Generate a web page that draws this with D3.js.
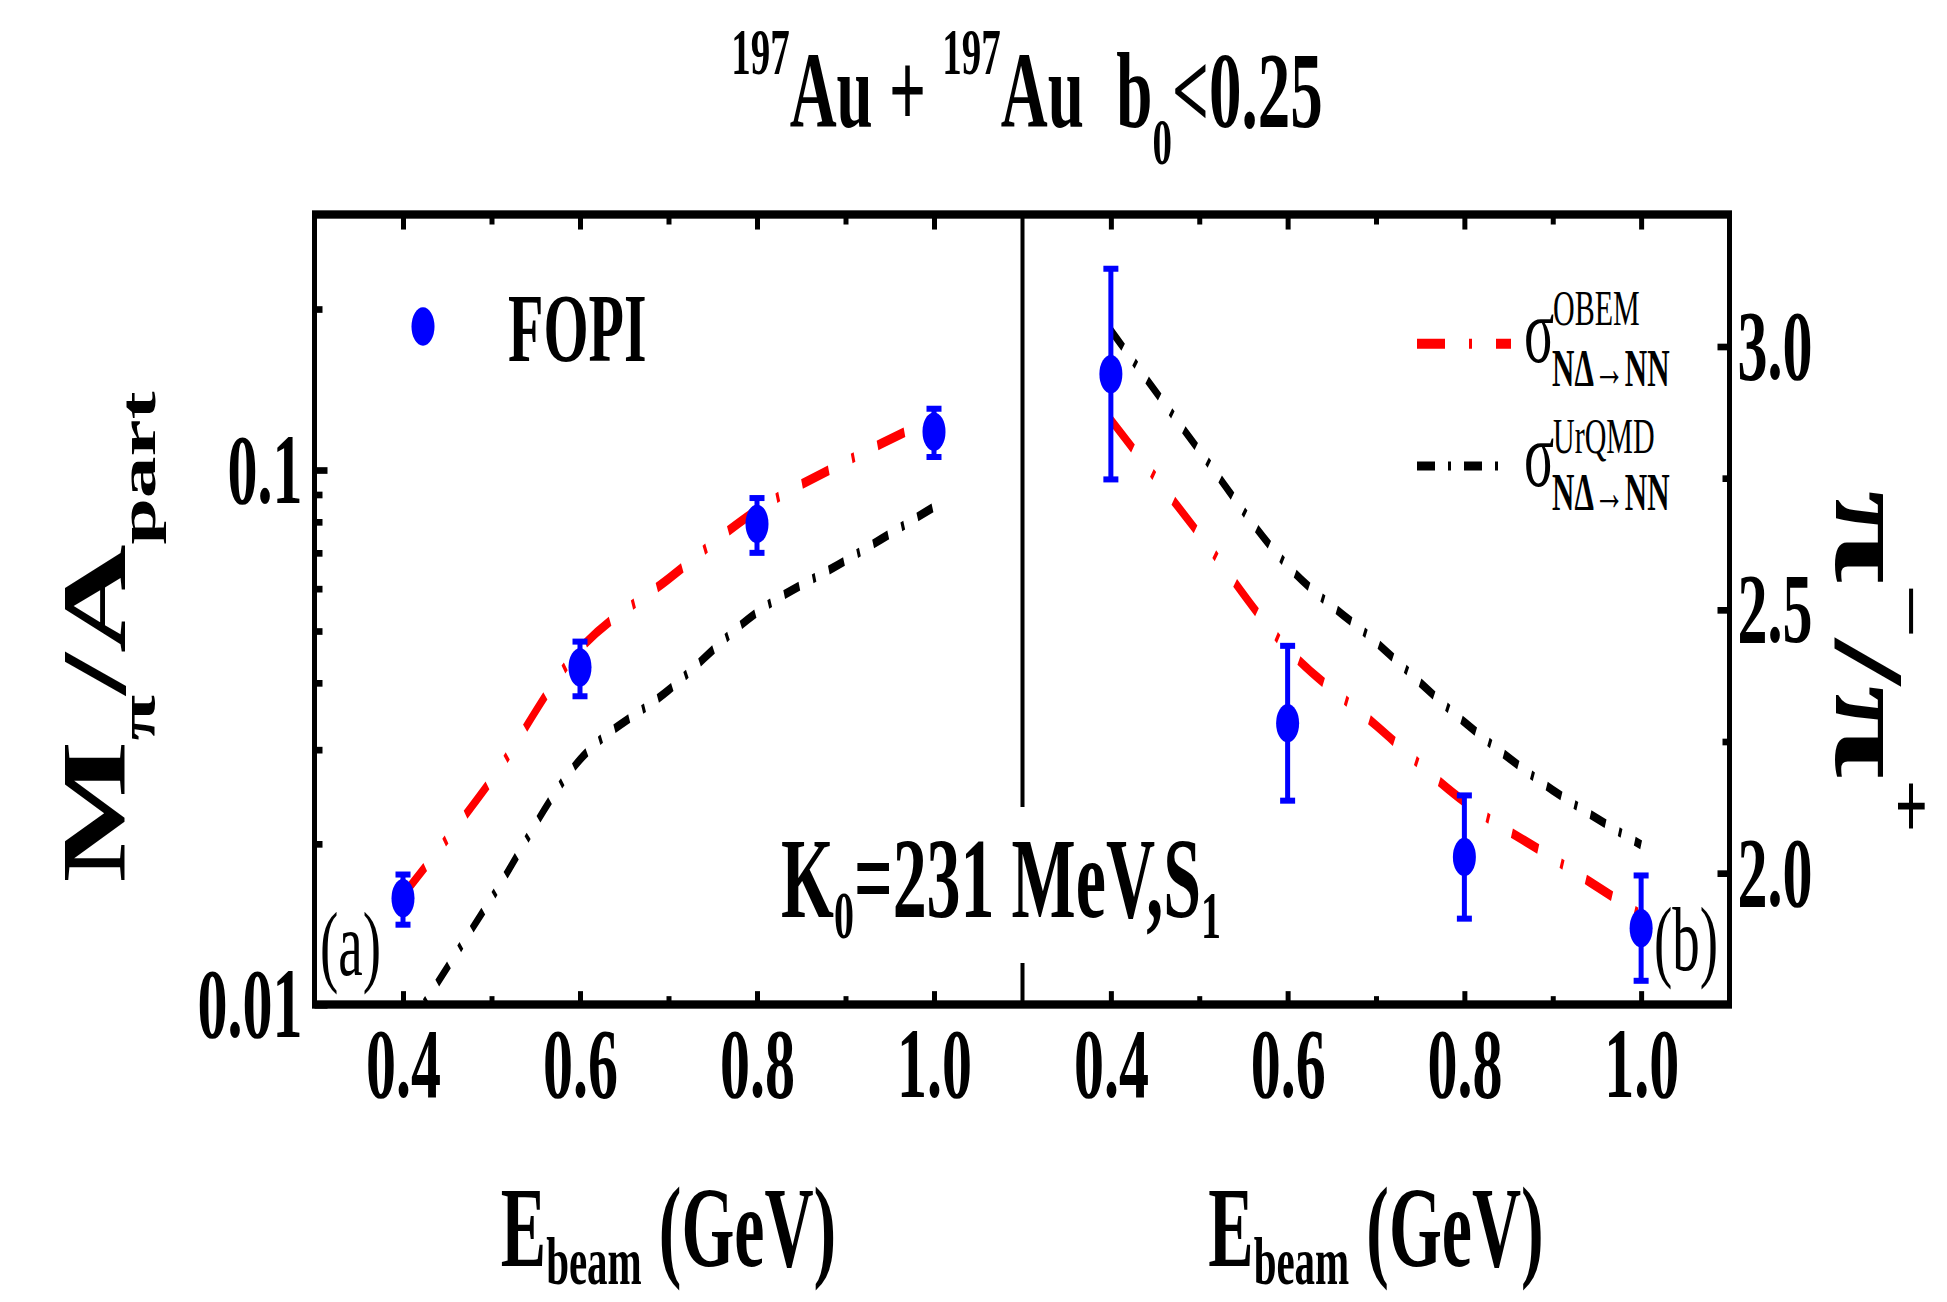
<!DOCTYPE html>
<html><head><meta charset="utf-8">
<script src="https://cdn.jsdelivr.net/npm/d3@7"></script>
<style>body{margin:0;background:#fff} svg text{font-family:"Liberation Serif","Times New Roman",serif}</style>
</head><body>
<svg id="c" width="1947" height="1302"></svg>
<script>
// ---------- data ----------
const energies = [0.4, 0.6, 0.8, 1.0];
const fopiMult = [0.0158, 0.0427, 0.0792, 0.1178];
const fopiMultErr = [0.0017, 0.0050, 0.0093, 0.0122];
const fopiRatio = [2.947, 2.284, 2.030, 1.895];
const fopiRatioErr = [0.200, 0.147, 0.117, 0.100];

const modelE = [0.4, 0.5, 0.6, 0.7, 0.8, 0.9, 1.0];
const obemMult = [0.0160, 0.0263, 0.0462, 0.0625, 0.0840, 0.1035, 0.1250];
const urqmdMult = [0.0087, 0.0158, 0.0287, 0.0387, 0.0541, 0.0676, 0.0852];
const obemRatio = [2.860, 2.643, 2.425, 2.280, 2.135, 2.028, 1.920];
const urqmdRatio = [3.030, 2.802, 2.583, 2.438, 2.286, 2.157, 2.053];

const xTicksMajor = [0.4, 0.6, 0.8, 1.0];
const xTickLabels = ["0.4", "0.6", "0.8", "1.0"];
const xTicksMinor = [0.5, 0.7, 0.9];
const yMultMajor = [0.01, 0.1];
const yMultLabels = ["0.01", "0.1"];
const yMultMinor = [0.02, 0.03, 0.04, 0.05, 0.06, 0.07, 0.08, 0.09, 0.2];
const yRatioMajor = [2.0, 2.5, 3.0];
const yRatioLabels = ["2.0", "2.5", "3.0"];
const yRatioMinor = [2.25, 2.75];

// ---------- layout ----------
const K = 1.67;               // vertical stretch of the original figure
const L = 314.5, R = 1729.5, MID = 1022.5;
const TOP = 214.5 / K, BOT = 1004.5 / K;
const RED = "#ff0000", BLUE = "#0000ff";
const SERIF = '"Liberation Serif","Times New Roman",serif';

const svg = d3.select("#c");
const g = svg.append("g").attr("transform", `scale(1,${K})`);

const xA = d3.scaleLinear().domain([0.3, 1.1]).range([L, MID]);
const xB = d3.scaleLinear().domain([0.3, 1.1]).range([MID, R]);
const yA = d3.scaleLog().domain([0.01, 0.3]).range([BOT, TOP]);
const yB = d3.scaleLinear().domain([1.75, 3.25]).range([BOT, TOP]);

function styleAxis(sel, sw) {
  sel.select(".domain").remove();
  sel.selectAll("line").attr("stroke", "#000").attr("stroke-width", sw);
  sel.attr("font-family", SERIF).attr("font-size", 60).attr("font-weight", "bold");
  sel.selectAll("text").attr("fill", "#000");
}

// x axes (both panels)
[xA, xB].forEach(xs => {
  g.append("g").attr("transform", `translate(0,${BOT})`)
    .call(d3.axisBottom(xs).tickValues(xTicksMajor).tickFormat((d, i) => xTickLabels[i]).tickSize(-8).tickPadding(13))
    .call(s => styleAxis(s, 5));
  g.append("g").attr("transform", `translate(0,${BOT})`)
    .call(d3.axisBottom(xs).tickValues(xTicksMinor).tickFormat("").tickSize(-5))
    .call(s => styleAxis(s, 5));
  g.append("g").attr("transform", `translate(0,${TOP})`)
    .call(d3.axisTop(xs).tickValues(xTicksMajor).tickFormat("").tickSize(-9))
    .call(s => styleAxis(s, 5));
  g.append("g").attr("transform", `translate(0,${TOP})`)
    .call(d3.axisTop(xs).tickValues(xTicksMinor).tickFormat("").tickSize(-6))
    .call(s => styleAxis(s, 5));
});

// left log axis
g.append("g").attr("transform", `translate(${L},0)`)
  .call(d3.axisLeft(yA).tickValues(yMultMajor).tickFormat((d, i) => yMultLabels[i]).tickSize(-13).tickPadding(12))
  .call(s => styleAxis(s, 4));
g.append("g").attr("transform", `translate(${L},0)`)
  .call(d3.axisLeft(yA).tickValues(yMultMinor).tickFormat("").tickSize(-8))
  .call(s => styleAxis(s, 4));

// right linear axis
g.append("g").attr("transform", `translate(${R},0)`)
  .call(d3.axisRight(yB).tickValues(yRatioMajor).tickFormat((d, i) => yRatioLabels[i]).tickSize(-12).tickPadding(8))
  .call(s => styleAxis(s, 4));
g.append("g").attr("transform", `translate(${R},0)`)
  .call(d3.axisRight(yB).tickValues(yRatioMinor).tickFormat("").tickSize(-7))
  .call(s => styleAxis(s, 4));

// frame and divider
g.append("rect").attr("x", L).attr("y", TOP).attr("width", R - L).attr("height", BOT - TOP)
  .attr("fill", "none").attr("stroke", "#000").attr("stroke-width", 5);
g.append("line").attr("x1", MID).attr("x2", MID).attr("y1", TOP).attr("y2", BOT)
  .attr("stroke", "#000").attr("stroke-width", 4);

// clip paths
const defs = svg.append("defs");
defs.append("clipPath").attr("id", "clipA").append("rect")
  .attr("x", L).attr("y", TOP).attr("width", MID - L).attr("height", BOT - TOP);
defs.append("clipPath").attr("id", "clipB").append("rect")
  .attr("x", MID).attr("y", TOP).attr("width", R - MID).attr("height", BOT - TOP);

const redDash = "28,24,3,24", blackDash = "16,14,3,14";

function drawModel(xs, ys, vals, color, dash, sw, clip) {
  const pts = modelE.map((e, i) => [e, vals[i]]);
  g.append("path").attr("clip-path", `url(#${clip})`)
    .datum(pts)
    .attr("d", d3.line().x(d => xs(d[0])).y(d => ys(d[1])).curve(d3.curveCatmullRom))
    .attr("fill", "none").attr("stroke", color).attr("stroke-width", sw)
    .attr("stroke-dasharray", dash);
}
drawModel(xA, yA, obemMult, RED, redDash, 6, "clipA");
drawModel(xA, yA, urqmdMult, "#000", blackDash, 5.5, "clipA");
drawModel(xB, yB, obemRatio, RED, redDash, 6, "clipB");
drawModel(xB, yB, urqmdRatio, "#000", blackDash, 5.5, "clipB");

function drawData(xs, ys, vals, errs) {
  const d = energies.map((e, i) => ({ e, v: vals[i], er: errs[i] }));
  const gg = g.append("g");
  gg.selectAll("line.bar").data(d).join("line").attr("class", "bar")
    .attr("x1", p => xs(p.e)).attr("x2", p => xs(p.e))
    .attr("y1", p => ys(p.v - p.er)).attr("y2", p => ys(p.v + p.er))
    .attr("stroke", BLUE).attr("stroke-width", 5);
  ["lo", "hi"].forEach(k => {
    gg.selectAll("line.cap" + k).data(d).join("line").attr("class", "cap" + k)
      .attr("x1", p => xs(p.e) - 7.5).attr("x2", p => xs(p.e) + 7.5)
      .attr("y1", p => ys(k === "lo" ? p.v - p.er : p.v + p.er))
      .attr("y2", p => ys(k === "lo" ? p.v - p.er : p.v + p.er))
      .attr("stroke", BLUE).attr("stroke-width", 3.6);
  });
  gg.selectAll("circle").data(d).join("circle")
    .attr("cx", p => xs(p.e)).attr("cy", p => ys(p.v)).attr("r", 11.5).attr("fill", BLUE);
}
drawData(xA, yA, fopiMult, fopiMultErr);
drawData(xB, yB, fopiRatio, fopiRatioErr);

// ---------- texts ----------
function txt(x, yImg, size, weight) {
  return g.append("text").attr("x", x).attr("y", yImg / K)
    .attr("font-size", size).attr("font-weight", weight || "bold").attr("fill", "#000");
}

// title
{
  const t = txt(1027, 127, 65).attr("text-anchor", "middle");
  t.append("tspan").attr("font-size", 39).attr("dy", -31.7).text("197");
  t.append("tspan").attr("font-size", 65).attr("dy", 31.7).text("Au + ");
  t.append("tspan").attr("font-size", 39).attr("dy", -31.7).text("197");
  t.append("tspan").attr("font-size", 65).attr("dy", 31.7).text("Au\u00A0\u00A0b");
  t.append("tspan").attr("font-size", 39).attr("dy", 22).text("0");
  t.append("tspan").attr("font-size", 65).attr("dy", -22).text("<0.25");
}

// left y label
{
  const t = g.append("text").attr("transform", `translate(125,${637 / K}) rotate(-90)`)
    .attr("text-anchor", "middle").attr("font-size", 90).attr("font-weight", "bold").attr("fill", "#000");
  t.append("tspan").text("M");
  t.append("tspan").attr("font-size", 50).attr("dy", 30).text("π");
  t.append("tspan").attr("font-size", 90).attr("dy", -30).text("/A");
  t.append("tspan").attr("font-size", 50).attr("dy", 30).text("part");
}

// right y label
{
  const t = g.append("text").attr("transform", `translate(1836,${662 / K}) rotate(90)`)
    .attr("text-anchor", "middle").attr("font-size", 102).attr("font-weight", "bold").attr("fill", "#000");
  t.append("tspan").text("π");
  t.append("tspan").attr("font-size", 58).attr("dy", -56).text("−");
  t.append("tspan").attr("font-size", 100).attr("dy", 56).text("/");
  t.append("tspan").attr("font-size", 102).text("π");
  t.append("tspan").attr("font-size", 58).attr("dy", -56).text("+");
}

// x titles
[(L + MID) / 2, (MID + R) / 2].forEach(cx => {
  const t = txt(cx, 1266, 68).attr("text-anchor", "middle");
  t.append("tspan").text("E");
  t.append("tspan").attr("font-size", 41).attr("dy", 11).text("beam");
  t.append("tspan").attr("font-size", 68).attr("dy", -11).text(" (GeV)");
});

// K0 label with white box
g.append("rect").attr("x", 775).attr("y", 807 / K).attr("width", 478).attr("height", (963 - 807) / K).attr("fill", "#fff");
{
  const t = txt(781, 917, 68);
  t.append("tspan").text("K");
  t.append("tspan").attr("font-size", 40).attr("dy", 12.6).text("0");
  t.append("tspan").attr("font-size", 68).attr("dy", -12.6).text("=231 MeV,S");
  t.append("tspan").attr("font-size", 40).attr("dy", 12.6).text("1");
}

// panel tags
txt(320, 975, 55, "normal").text("(a)");
txt(1654, 970, 55, "normal").text("(b)");

// FOPI legend
g.append("circle").attr("cx", 423).attr("cy", 326.5 / K).attr("r", 11.5).attr("fill", BLUE);
txt(508, 361, 58).text("FOPI");

// model legend
const legItems = [
  { yImg: 343.7, color: RED, dash: "28,24,3,24", sw: 6, len: 94, sup: "OBEM", sigY: 362, supY: 325, subY: 386 },
  { yImg: 466, color: "#000", dash: "18,13,3,13", sw: 5.5, len: 81, sup: "UrQMD", sigY: 486, supY: 453, subY: 510 }
];
legItems.forEach(it => {
  g.append("line").attr("x1", 1417).attr("x2", 1417 + it.len).attr("y1", it.yImg / K).attr("y2", it.yImg / K)
    .attr("stroke", it.color).attr("stroke-width", it.sw).attr("stroke-dasharray", it.dash);
  txt(1524, it.sigY, 56, "normal").text("σ");
  txt(1553, it.supY, 30, "normal").text(it.sup);
  txt(1552, it.subY, 31, "bold").text("NΔ→NN");
});
</script>
</body></html>
